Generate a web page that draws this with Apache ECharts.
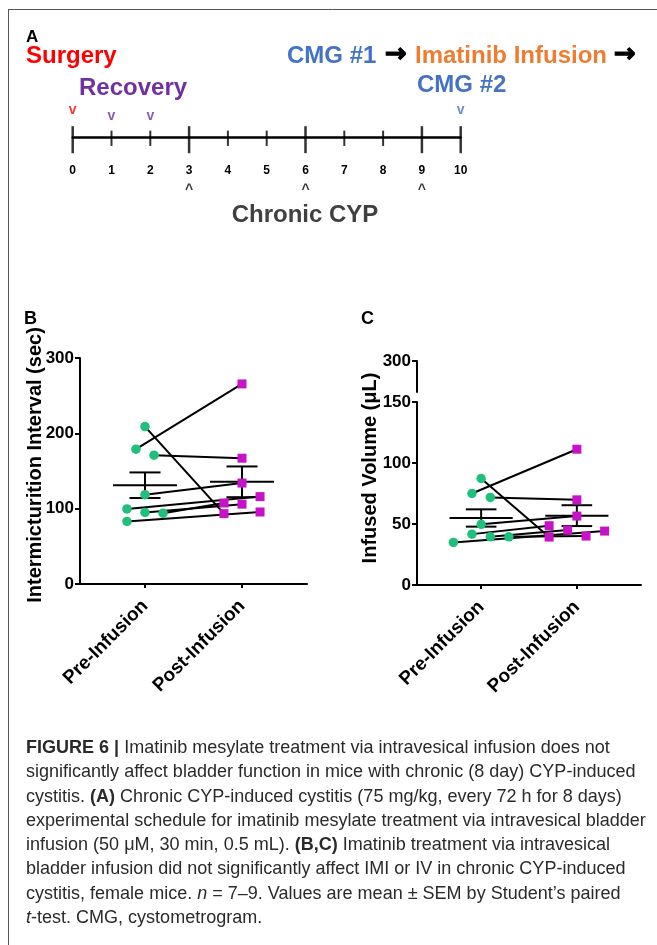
<!DOCTYPE html>
<html><head><meta charset="utf-8">
<script src="https://cdn.jsdelivr.net/npm/echarts@6/dist/echarts.min.js"></script>
<style>html,body{margin:0;padding:0;background:#fff}#c{width:657px;height:945px}</style>
</head><body><div id="c"></div>
<script>
// ---------- data ----------
const categories = ['Pre-Infusion', 'Post-Infusion'];
// Panel B: intermicturition interval (sec), paired by index
const imiPre  = [179, 209, 171, 118.6, 99.6, 95, 94, 83];
const imiPost = [265.6, 93.4, 167, 134, 116, 106, 107.5, 95.6];
const imiPreJitter  = [-0.093, 0, 0.093, 0, -0.186, 0, 0.186, -0.186];
const imiPostJitter = [0, -0.186, 0, 0, 0.186, 0, -0.186, 0.186];
// Panel C: infused volume (uL), paired by index
const ivPre  = [75, 87.3, 71.8, 49.7, 41.7, 39.5, 39.5, 34.9];
const ivPost = [111.3, 39.3, 69.8, 56.5, 48.6, 45, 40.1, 44.2];
const ivPreJitter  = [-0.096, 0, 0.096, 0, -0.096, 0.096, 0.29, -0.29];
const ivPostJitter = [0, -0.29, 0, 0, -0.29, -0.096, 0.096, 0.29];
// Panel A: timeline (days)
const majorDays = [0, 3, 6, 9, 10];
const minorDays = [1, 2, 4, 5, 7, 8];
const surgeryDays = [0];
const recoveryDays = [1, 2];
const cmgDays = [10];
const cypDays = [3, 6, 9];
const captionLines = [
  '{b|FIGURE 6 |} Imatinib mesylate treatment via intravesical infusion does not',
  'significantly affect bladder function in mice with chronic (8 day) CYP-induced',
  'cystitis. {b|(A)} Chronic CYP-induced cystitis (75 mg/kg, every 72 h for 8 days)',
  'experimental schedule for imatinib mesylate treatment via intravesical bladder',
  'infusion (50 \u03bcM, 30 min, 0.5 mL). {b|(B,C)} Imatinib treatment via intravesical',
  'bladder infusion did not significantly affect IMI or IV in chronic CYP-induced',
  'cystitis, female mice. {i|n} = 7\u20139. Values are mean \u00b1 SEM by Student\u2019s paired',
  '{i|t}-test. CMG, cystometrogram.'
];

// ---------- helpers ----------
const FF = '"Liberation Sans", Arial, sans-serif';
const CAPF = '"Liberation Sans Narrow", "Liberation Sans", Arial, sans-serif';
const GREEN = '#1fbf7c', MAGENTA = '#c812c8';
function meanSem(a) {
  const n = a.length, m = a.reduce((s, v) => s + v, 0) / n;
  const sd = Math.sqrt(a.reduce((s, v) => s + (v - m) * (v - m), 0) / (n - 1));
  return [m, sd / Math.sqrt(n)];
}
function errRender(params, api) {
  const x = api.value(0), m = api.value(1), s = api.value(2);
  const c = (a, b) => api.coord([a, b]);
  const L = c(x - 0.33, m), R = c(x + 0.33, m), T = c(x, m + s), B = c(x, m - s);
  const tl = c(x - 0.16, m + s), tr = c(x + 0.16, m + s), bl = c(x - 0.16, m - s), br = c(x + 0.16, m - s);
  const st = { stroke: '#000', lineWidth: 2 };
  const ln = (p, q) => ({ type: 'line', shape: { x1: p[0], y1: p[1], x2: q[0], y2: q[1] }, style: st });
  return { type: 'group', children: [ln(L, R), ln(T, B), ln(tl, tr), ln(bl, br)] };
}
function pairedSeries(pre, post, preJ, postJ, xi, yi) {
  const out = [];
  pre.forEach((v, i) => out.push({
    type: 'line', xAxisIndex: xi, yAxisIndex: yi, silent: true, symbol: 'none', z: 2,
    lineStyle: { color: '#000', width: 2 },
    data: [[1 + preJ[i], v], [2 + postJ[i], post[i]]]
  }));
  out.push({ type: 'scatter', xAxisIndex: xi, yAxisIndex: yi, symbol: 'circle', symbolSize: 9.5, z: 4, silent: true,
    itemStyle: { color: GREEN, opacity: 1 }, data: pre.map((v, i) => [1 + preJ[i], v]) });
  out.push({ type: 'scatter', xAxisIndex: xi, yAxisIndex: yi, symbol: 'rect', symbolSize: 9, z: 4, silent: true,
    itemStyle: { color: MAGENTA, opacity: 1 }, data: post.map((v, i) => [2 + postJ[i], v]) });
  const a = meanSem(pre), b = meanSem(post);
  out.push({ type: 'custom', xAxisIndex: xi, yAxisIndex: yi, z: 3, silent: true, renderItem: errRender,
    encode: { x: 0, y: 1 }, data: [[1, a[0], a[1]], [2, b[0], b[1]]] });
  return out;
}
function markerSeries(days, txt, color, dy, size) {
  return { type: 'scatter', xAxisIndex: 0, yAxisIndex: 0, silent: true, symbol: 'circle', symbolSize: 1,
    itemStyle: { color: 'rgba(0,0,0,0)' }, z: 5,
    label: { show: true, formatter: txt, position: 'inside', offset: [0, dy], color: color,
      fontSize: size, fontWeight: 'bold', fontFamily: FF },
    data: days.map(d => [d, 0]) };
}
const catXAxis = (grid) => ({
  type: 'value', gridIndex: grid, min: 0.33, max: 2.67, splitLine: { show: false },
  axisLine: { show: true, onZero: false, lineStyle: { color: '#000', width: 2 } },
  axisTick: { show: true, customValues: [1, 2], length: 4, lineStyle: { color: '#000', width: 2 } },
  axisLabel: { show: true, customValues: [1, 2], rotate: 45, margin: 19, color: '#000', fontSize: 19,
    fontWeight: 'bold', fontFamily: FF, formatter: v => categories[Math.round(v) - 1] }
});
const valYAxis = (grid, min, max, interval, extra) => Object.assign({
  type: 'value', gridIndex: grid, min, max, interval, splitLine: { show: false },
  axisLine: { show: true, lineStyle: { color: '#000', width: 2 } },
  axisTick: { show: true, length: 5, lineStyle: { color: '#000', width: 2 } },
  axisLabel: { show: true, margin: 6, color: '#000', fontSize: 17, fontWeight: 'bold', fontFamily: FF }
}, extra || {});

// caption font size fitted to reference line width
const cv = document.createElement('canvas').getContext('2d');
cv.font = '16px ' + CAPF;
const capW = cv.measureText(captionLines[1]).width;
const capSize = 16 * 610 / capW;

function txt(x, y, text, color, size, opts) {
  return Object.assign({ type: 'text', x, y, silent: true,
    style: { text, fill: color, fontSize: size, fontWeight: 'bold', fontFamily: FF, align: 'left', verticalAlign: 'middle' } }, opts || {});
}
const arrow = (x) => ({ type: 'text', x, y: 55, silent: true,
  style: { text: '\u2192', fill: '#000', stroke: '#000', lineWidth: 1.2, fontSize: 26, fontWeight: 'bold',
    fontFamily: '"DejaVu Sans", sans-serif', align: 'left', verticalAlign: 'middle' } });
const graphics = [
  { type: 'line', silent: true, shape: { x1: 8, y1: 9.5, x2: 657, y2: 9.5 }, style: { stroke: '#555', lineWidth: 1 } },
  { type: 'line', silent: true, shape: { x1: 8.5, y1: 9, x2: 8.5, y2: 945 }, style: { stroke: '#555', lineWidth: 1 } },
  txt(26, 37, 'A', '#000', 17),
  txt(26, 56, 'Surgery', '#ff0000', 24),
  txt(79, 88, 'Recovery', '#7030a0', 24),
  txt(287, 56, 'CMG #1', '#4472c4', 24),
  arrow(385),
  txt(415, 56, 'Imatinib Infusion', '#ed7d31', 24),
  arrow(614),
  txt(417, 85, 'CMG #2', '#4472c4', 24),
  { type: 'text', x: 305, y: 215, silent: true, style: { text: 'Chronic CYP', fill: '#404040', fontSize: 24, fontWeight: 'bold', fontFamily: FF, align: 'center', verticalAlign: 'middle' } },
  txt(24, 319, 'B', '#000', 18),
  txt(361, 319, 'C', '#000', 18),
  { type: 'text', x: 35, y: 465, rotation: Math.PI / 2, silent: true, style: { text: 'Intermicturition Interval (sec)', fill: '#000', fontSize: 20, fontWeight: 'bold', fontFamily: FF, align: 'center', verticalAlign: 'middle' } },
  { type: 'text', x: 370, y: 468, rotation: Math.PI / 2, silent: true, style: { text: 'Infused Volume (\u03bcL)', fill: '#000', fontSize: 20, fontWeight: 'bold', fontFamily: FF, align: 'center', verticalAlign: 'middle' } }
];
captionLines.forEach((line, i) => {
  graphics.push({ type: 'text', x: 26, y: 748 + i * 24.3, silent: true,
    style: { text: line, fill: '#2a2a2a', fontSize: capSize, fontFamily: CAPF, align: 'left', verticalAlign: 'middle',
      rich: {
        b: { fontWeight: 'bold', fontSize: capSize, fontFamily: CAPF, fill: '#2a2a2a' },
        i: { fontStyle: 'italic', fontSize: capSize, fontFamily: CAPF, fill: '#2a2a2a' }
      } } });
});

const option = {
  animation: false,
  backgroundColor: '#fff',
  grid: [
    { left: 72.7, width: 388, top: 100, height: 37.5, outerBoundsMode: 'none' },
    { left: 80, width: 227, top: 358, height: 226, outerBoundsMode: 'none' },
    { left: 417, width: 224, top: 402, height: 183, outerBoundsMode: 'none' },
    { left: 417, width: 224, top: 361, height: 31, outerBoundsMode: 'none' }
  ],
  xAxis: [
    { type: 'value', gridIndex: 0, min: 0, max: 10, interval: 1, splitLine: { show: false },
      axisLine: { show: true, onZero: false, lineStyle: { color: '#000', width: 2.5 } },
      axisTick: { show: false },
      axisLabel: { show: true, margin: 27, color: '#000', fontSize: 12, fontWeight: 'bold', fontFamily: FF } },
    catXAxis(1),
    catXAxis(2),
    { type: 'value', gridIndex: 3, min: 0.33, max: 2.67, show: false }
  ],
  yAxis: [
    { type: 'value', gridIndex: 0, min: 0, max: 1, show: false },
    valYAxis(1, 0, 300, 100),
    valYAxis(2, 0, 150, 50),
    valYAxis(3, 250, 300, 50, { axisLabel: { show: true, showMinLabel: false, margin: 6, color: '#000', fontSize: 17, fontWeight: 'bold', fontFamily: FF } })
  ],
  series: [
    { type: 'scatter', xAxisIndex: 0, yAxisIndex: 0, silent: true, symbol: 'rect', symbolSize: [2.5, 27], symbolOffset: [0, 2.2],
      itemStyle: { color: '#000' }, data: majorDays.map(d => [d, 0]) },
    { type: 'scatter', xAxisIndex: 0, yAxisIndex: 0, silent: true, symbol: 'rect', symbolSize: [2, 15.3], symbolOffset: [0, 0.8],
      itemStyle: { color: '#000' }, data: minorDays.map(d => [d, 0]) },
    markerSeries(surgeryDays, 'v', '#ff0000', -27, 14),
    markerSeries(recoveryDays, 'v', '#7030a0', -21.5, 14),
    markerSeries(cmgDays, 'v', '#4472c4', -27.5, 14),
    markerSeries(cypDays, '^', '#000', 53, 14)
  ].concat(
    pairedSeries(imiPre, imiPost, imiPreJitter, imiPostJitter, 1, 1),
    pairedSeries(ivPre, ivPost, ivPreJitter, ivPostJitter, 2, 2)
  ),
  graphic: graphics
};
const chart = echarts.init(document.getElementById('c'), null, { renderer: 'canvas' });
chart.setOption(option);
</script>
</body></html>
